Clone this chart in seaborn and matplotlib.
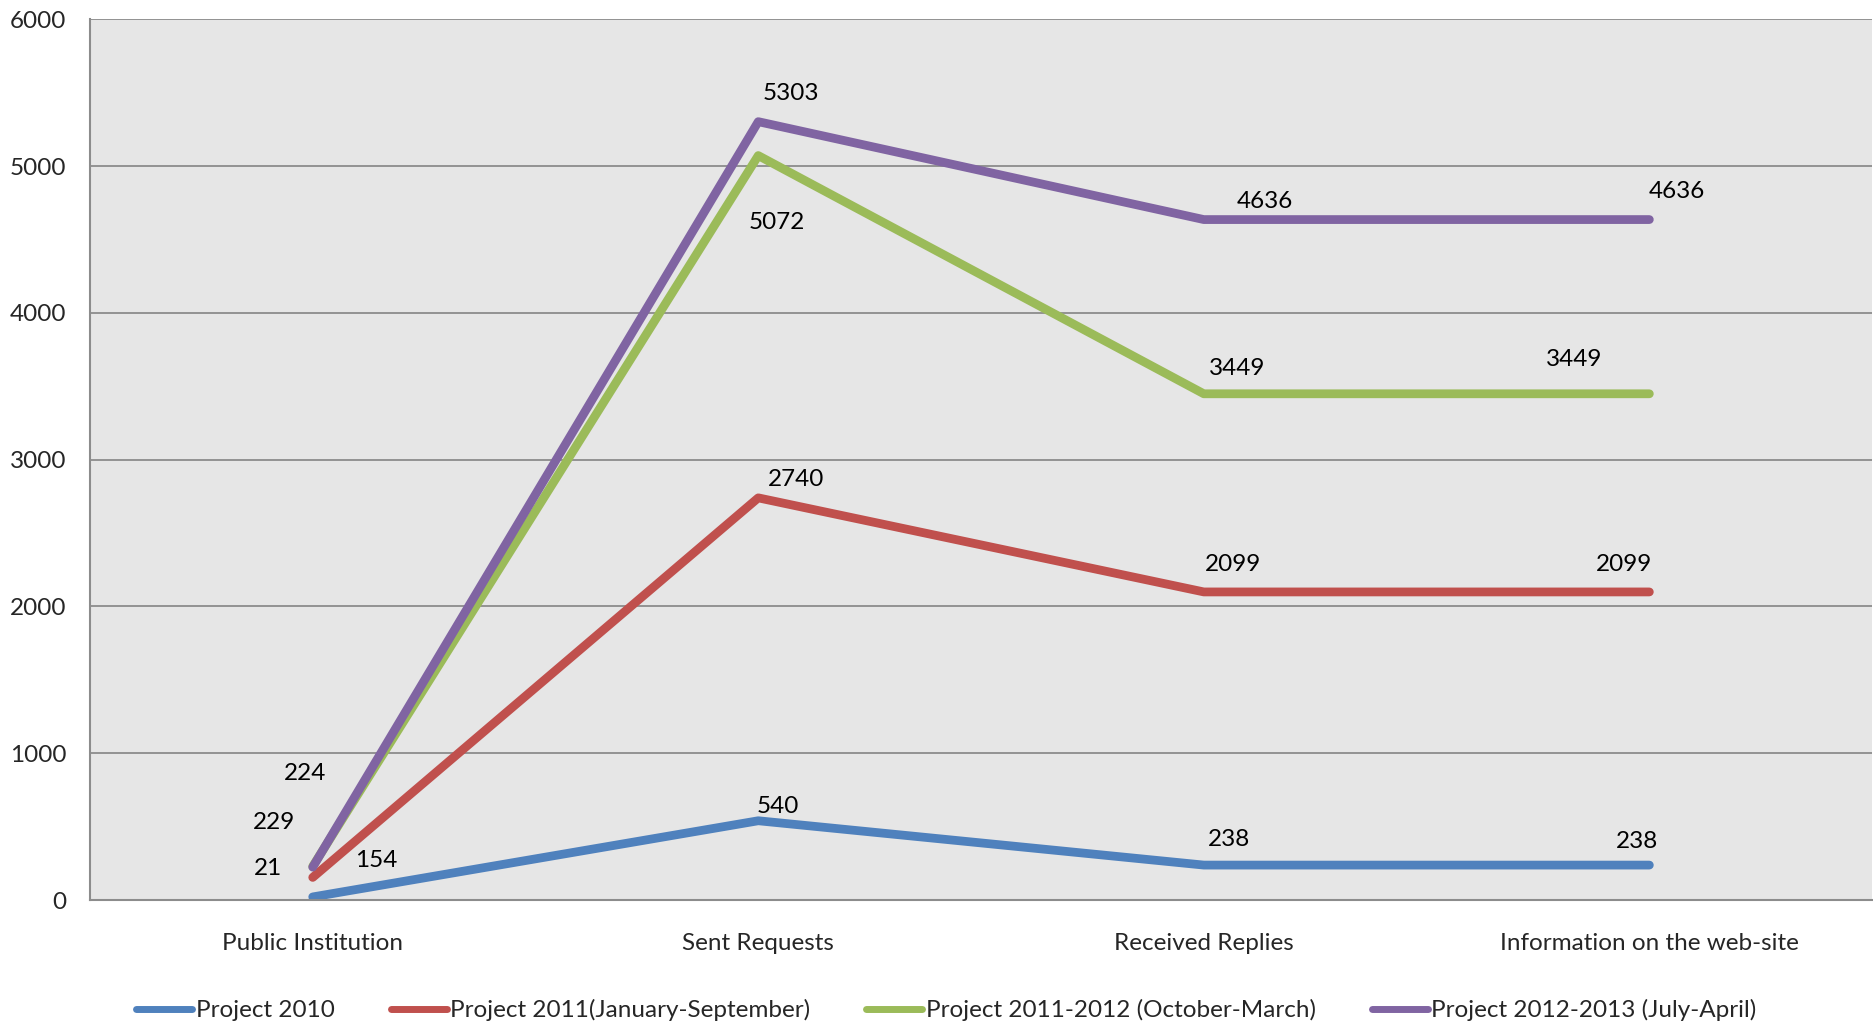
import matplotlib
matplotlib.use("Agg")
import matplotlib.pyplot as plt
import seaborn as sns
import pandas as pd

categories = ["Public Institution", "Sent Requests", "Received Replies", "Information on the web-site"]
series_names = ["Project 2010", "Project 2011(January-September)",
                "Project 2011-2012 (October-March)", "Project 2012-2013 (July-April)"]
p2010 = [21, 540, 238, 238]
p2011 = [154, 2740, 2099, 2099]
p2011_12 = [229, 5072, 3449, 3449]
p2012_13 = [224, 5303, 4636, 4636]
colors = ["#4F81BD", "#C0504D", "#9BBB59", "#8064A2"]
yticks = [0, 1000, 2000, 3000, 4000, 5000, 6000]

# label offsets in pixels (dx, dy) per series per point
offsets = [
    [(-45, 28), (20, 14), (25, 26), (-12, 24)],
    [(64, 17), (38, 18), (29, 27), (-25, 27)],
    [(-39, 44), (19, -67), (33, 25), (-75, 34)],
    [(-8, 94), (33, 28), (61, 18), (27, 28)],
]

sns.set_theme(style="white")
plt.rcParams['font.family'] = ['Lato', 'DejaVu Sans']
FS = 17.5

all_vals = [p2010, p2011, p2011_12, p2012_13]
rows = []
for name, vals in zip(series_names, all_vals):
    for i, v in enumerate(vals):
        rows.append({"x": i, "value": v, "series": name})
df = pd.DataFrame(rows)

fig = plt.figure(figsize=(18.74, 10.30), dpi=100)
ax = fig.add_axes([0.048, 0.1262, 0.951, 0.855])
ax.set_facecolor("#E6E6E6")

sns.lineplot(data=df, x="x", y="value", hue="series", hue_order=series_names,
             palette=colors, linewidth=6.3, sort=False, ax=ax, legend=True,
             solid_capstyle="round")

for vals, offs in zip(all_vals, offsets):
    for i, (v, (dx, dy)) in enumerate(zip(vals, offs)):
        ax.annotate(str(v), (i, v), xytext=(dx, dy), textcoords="offset pixels",
                    ha="center", va="center", fontsize=FS, color="black")

ax.set_xlim(-0.5, 3.5)
ax.set_ylim(0, 6000)
ax.set_yticks(yticks)
ax.set_yticklabels([str(t) for t in yticks], fontsize=FS)
ax.set_xticks(range(len(categories)))
ax.set_xticklabels(categories, fontsize=FS)
ax.tick_params(axis="x", length=0, pad=24)
ax.tick_params(axis="y", length=0, pad=17)
ax.set_xlabel("")
ax.set_ylabel("")
ax.grid(axis="y", color="#8C8C8C", linewidth=1.3)
ax.set_axisbelow(True)
for s in ["top", "right"]:
    ax.spines[s].set_visible(False)
for s in ["left", "bottom"]:
    ax.spines[s].set_color("#8C8C8C")
    ax.spines[s].set_linewidth(1.5)

handles, labels = ax.get_legend_handles_labels()
ax.get_legend().remove()
leg = fig.legend(handles, labels, loc="center", bbox_to_anchor=(0.505, 0.019),
                 ncol=4, frameon=False, fontsize=FS, handlelength=2.3,
                 handletextpad=0.15, columnspacing=2.3)
for h in leg.legend_handles:
    h.set_linewidth(5)

fig.savefig("out.png", dpi=100, facecolor="white")
